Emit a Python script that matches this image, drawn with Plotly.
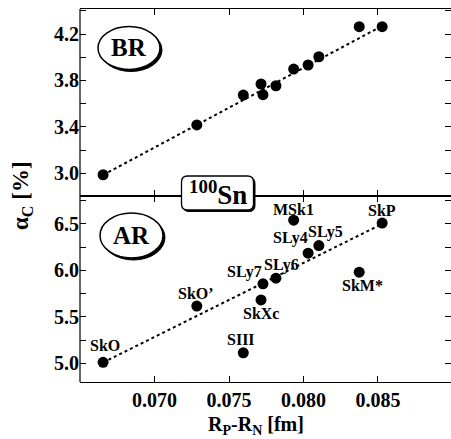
import plotly.graph_objects as go

# ---------------- data ----------------
forces = ["SkO", "SkO’", "SIII", "SkXc", "SLy7", "SLy6", "MSk1", "SLy4", "SLy5", "SkM*", "SkP"]
rp_rn = [0.06655, 0.07284, 0.07596, 0.07715, 0.07728, 0.07815, 0.07934, 0.08031, 0.08103, 0.08374, 0.08528]
alpha_br = [2.987, 3.416, 3.674, 3.769, 3.677, 3.754, 3.898, 3.933, 4.004, 4.263, 4.263]
alpha_ar = [5.011, 5.617, 5.114, 5.682, 5.855, 5.916, 6.540, 6.185, 6.267, 5.981, 6.509]

fit_x = [0.06655, 0.08528]
fit_br = [2.985, 4.27]
fit_ar = [5.01, 6.50]

x_ticks = [0.070, 0.075, 0.080, 0.085]

# ---------------- styling ----------------
FONT = "Liberation Serif"
label_offsets = {  # pixel offsets of force labels from their points (dx, dy up)
    "SkO": (2, 17), "SkO’": (-1, 13), "SIII": (-2, 13), "SkXc": (0, -14),
    "SLy7": (-18, 12), "SLy6": (6, 13), "MSk1": (0, 11), "SLy4": (-18, 15),
    "SLy5": (7, 14), "SkM*": (3, -13), "SkP": (0, 13),
}

W, H = 451, 439
ML, MR, MT, MB = 80, 0, 9, 57
split = 0.4987

fig = go.Figure()

# upper panel (BR) uses xaxis2/yaxis2; lower panel (AR) uses xaxis/yaxis
fig.add_trace(go.Scatter(x=fit_x, y=fit_br, mode="lines", xaxis="x2", yaxis="y2",
                         line=dict(color="black", width=2, dash="dot"), showlegend=False))
fig.add_trace(go.Scatter(x=rp_rn, y=alpha_br, mode="markers", xaxis="x2", yaxis="y2",
                         marker=dict(color="black", size=11), showlegend=False))
fig.add_trace(go.Scatter(x=fit_x, y=fit_ar, mode="lines", xaxis="x", yaxis="y",
                         line=dict(color="black", width=2, dash="dot"), showlegend=False))
fig.add_trace(go.Scatter(x=rp_rn, y=alpha_ar, mode="markers", xaxis="x", yaxis="y",
                         marker=dict(color="black", size=11), showlegend=False))

tickfont = dict(family=FONT, size=20, color="black", weight="bold")
xr = [0.065, 0.0899]
common_x = dict(range=xr, tickvals=x_ticks, ticks="inside", ticklen=6, tickwidth=1.2,
                showline=True, linecolor="black", linewidth=1.2, mirror="ticks",
                showgrid=False, zeroline=False, tickcolor="black")
fig.update_layout(
    xaxis=dict(**common_x, anchor="y", domain=[0, 1], tickformat=".3f", tickfont=tickfont),
    xaxis2=dict(**common_x, anchor="y2", domain=[0, 1], showticklabels=False),
    yaxis=dict(domain=[0, split], range=[4.8, 6.8], tick0=5.0, dtick=0.5, tickformat=".1f",
               ticks="inside", ticklen=6, tickwidth=1.2, tickcolor="black", mirror="ticks",
               showline=False, showgrid=False, zeroline=False, tickfont=tickfont,
               minor=dict(dtick=0.25, tick0=5.0, ticks="inside", ticklen=6, tickcolor="black", showgrid=False),
               anchor="x"),
    yaxis2=dict(domain=[split, 1], range=[2.804, 4.4155], tick0=3.0, dtick=0.4, tickformat=".1f",
                ticks="inside", ticklen=6, tickwidth=1.2, tickcolor="black", mirror="ticks",
                showline=False, showgrid=False, zeroline=False, tickfont=tickfont,
                minor=dict(dtick=0.2, tick0=3.0, ticks="inside", ticklen=6, tickcolor="black", showgrid=False),
                anchor="x2"),
    width=W, height=H,
    margin=dict(l=ML, r=MR, t=MT, b=MB),
    paper_bgcolor="white", plot_bgcolor="white",
)

shapes = []
# left border
shapes.append(dict(type="line", xref="paper", yref="paper", x0=0, x1=0, y0=0, y1=1,
                   line=dict(color="black", width=1.2), layer="above"))


def ellipse(cx, cy, rx, ry):
    out = []
    out.append(dict(type="circle", xref="paper", yref="paper", xsizemode="pixel", ysizemode="pixel",
                    xanchor=cx, yanchor=cy, x0=-rx + 2, x1=rx + 2, y0=-ry - 2, y1=ry - 2,
                    fillcolor="black", line=dict(color="black", width=1), layer="above"))
    out.append(dict(type="circle", xref="paper", yref="paper", xsizemode="pixel", ysizemode="pixel",
                    xanchor=cx, yanchor=cy, x0=-rx, x1=rx, y0=-ry, y1=ry,
                    fillcolor="white", line=dict(color="black", width=1.5), layer="above"))
    return out


def rrect(hw, hh, r):
    return (f"M {-hw + r} {hh} L {hw - r} {hh} Q {hw} {hh} {hw} {hh - r} "
            f"L {hw} {-hh + r} Q {hw} {-hh} {hw - r} {-hh} "
            f"L {-hw + r} {-hh} Q {-hw} {-hh} {-hw} {-hh + r} "
            f"L {-hw} {hh - r} Q {-hw} {hh} {-hw + r} {hh} Z")


pw, ph = W - ML - MR, H - MT - MB
br_c = ((129 - ML) / pw, (H - MB - 48) / ph)
ar_c = ((131.5 - ML) / pw, (H - MB - 235.5) / ph)
sn_c = ((217.5 - ML) / pw, (H - MB - 193) / ph)

shapes += ellipse(br_c[0], br_c[1], 31, 21.5)
shapes += ellipse(ar_c[0], ar_c[1], 31.5, 22.5)
# 100Sn box
shapes.append(dict(type="path", xref="paper", yref="paper", xsizemode="pixel", ysizemode="pixel",
                   xanchor=sn_c[0] + 1.5 / pw, yanchor=sn_c[1] - 1.5 / ph, path=rrect(36, 17, 6),
                   fillcolor="black", line=dict(color="black", width=1), layer="above"))
shapes.append(dict(type="path", xref="paper", yref="paper", xsizemode="pixel", ysizemode="pixel",
                   xanchor=sn_c[0], yanchor=sn_c[1], path=rrect(36, 17, 6),
                   fillcolor="white", line=dict(color="black", width=1.3), layer="above"))
fig.update_layout(shapes=shapes)

ann = []
for name, xv, yv in zip(forces, rp_rn, alpha_ar):
    dx, dy = label_offsets[name]
    ann.append(dict(x=xv, y=yv, xref="x", yref="y", text=name, showarrow=False,
                    xanchor="center", yanchor="middle", xshift=dx, yshift=dy,
                    font=dict(family=FONT, size=16, color="black", weight="bold")))
ann.append(dict(x=br_c[0], y=br_c[1], xref="paper", yref="paper", text="BR", showarrow=False,
                xanchor="center", yanchor="middle",
                font=dict(family=FONT, size=25, color="black", weight="bold")))
ann.append(dict(x=ar_c[0], y=ar_c[1], xref="paper", yref="paper", text="AR", showarrow=False,
                xanchor="center", yanchor="middle",
                font=dict(family=FONT, size=25, color="black", weight="bold")))
ann.append(dict(x=sn_c[0], y=sn_c[1], xref="paper", yref="paper", text="<sup>100</sup>Sn",
                showarrow=False, xanchor="center", yanchor="middle",
                font=dict(family=FONT, size=27, color="black", weight="bold")))
ann.append(dict(x=(22 - ML) / pw, y=(H - MB - 196) / ph, xref="paper", yref="paper",
                text="α<sub>C</sub> [%]", textangle=-90, showarrow=False,
                xanchor="center", yanchor="middle",
                font=dict(family=FONT, size=23, color="black", weight="bold")))
ann.append(dict(x=(256 - ML) / pw, y=(H - MB - 425) / ph, xref="paper", yref="paper",
                text="R<sub>P</sub>-R<sub>N</sub> [fm]", showarrow=False,
                xanchor="center", yanchor="middle",
                font=dict(family=FONT, size=20, color="black", weight="bold")))
fig.update_layout(annotations=ann)

fig.write_html("out.html", config={"displayModeBar": False},
               post_script="document.body.style.margin='0';document.body.style.overflow='hidden';")
